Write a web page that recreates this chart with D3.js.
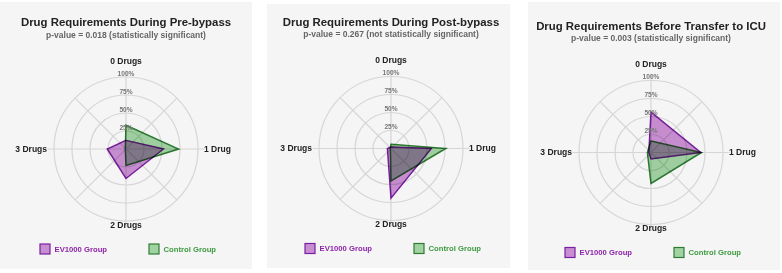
<!DOCTYPE html>
<html><head><meta charset="utf-8">
<script src="https://cdn.jsdelivr.net/npm/d3@7"></script>
<style>body{margin:0;background:#fff}svg{display:block}</style>
</head><body><svg id="c" width="782" height="273"></svg>
<script>
// ---- data ----
const categories = ["0 Drugs", "1 Drug", "2 Drugs", "3 Drugs"];
const chartTitles = ["Drug Requirements During Pre-bypass", "Drug Requirements During Post-bypass", "Drug Requirements Before Transfer to ICU"];
const pValues = ["p-value = 0.018 (statistically significant)", "p-value = 0.267 (not statistically significant)", "p-value = 0.003 (statistically significant)"];
const groupNames = ["EV1000 Group", "Control Group"];
const preBypassEV1000 = [12, 52, 41, 26];
const preBypassControl = [33, 73, 23, 1];
const postBypassEV1000 = [2, 56, 69, 5];
const postBypassControl = [6, 76, 45, 1];
const icuEV1000 = [56, 69, 9, 3];
const icuControl = [16, 70, 43, 5];
const tickValues = [25, 50, 75, 100];
const tickLabels = ["25%", "50%", "75%", "100%"];

// ---- layout / style ----
const panels = [
  {x: 0, y: 2, w: 252, h: 267, cx: 126, cy: 149, ev: preBypassEV1000, ctl: preBypassControl},
  {x: 267, y: 4, w: 243, h: 264, cx: 391, cy: 148.5, ev: postBypassEV1000, ctl: postBypassControl},
  {x: 528, y: 2, w: 252, h: 268, cx: 651, cy: 152.5, ev: icuEV1000, ctl: icuControl}
];
const R = 72;
const FONT = "'Liberation Sans', Arial, Helvetica, sans-serif";
const colors = [
  {fill: "#9c27b0", stroke: "#7b1fa2", text: "#8e24aa"},
  {fill: "#4caf50", stroke: "#2e7d32", text: "#3d9a40"}
];

const svg = d3.select("#c");
const r = d3.scaleLinear().domain([0, 100]).range([0, R]);
const ang = d3.scaleLinear().domain([0, categories.length]).range([0, 2 * Math.PI]);

panels.forEach((p, pi) => {
  svg.append("rect").attr("x", p.x).attr("y", p.y).attr("width", p.w).attr("height", p.h)
    .attr("fill", "#f5f5f5");
  const g = svg.append("g").attr("transform", `translate(${p.cx},${p.cy})`);

  g.append("text").attr("x", 0).attr("y", -127).attr("dy", "0.35em")
    .attr("text-anchor", "middle").attr("font-family", FONT).attr("font-weight", "bold")
    .attr("font-size", 11.4).attr("fill", "#222").text(chartTitles[pi]);
  g.append("text").attr("x", 0).attr("y", -114).attr("dy", "0.35em")
    .attr("text-anchor", "middle").attr("font-family", FONT).attr("font-weight", "bold")
    .attr("font-size", 8.5).attr("fill", "#666").text(pValues[pi]);

  // rings
  g.selectAll("circle.ring").data(tickValues).join("circle").attr("class", "ring")
    .attr("r", d => r(d)).attr("fill", "none").attr("stroke", "#d6d6d6").attr("stroke-width", 1.2);
  // spokes (8): main axes extend a little past the outer ring
  const spokes = d3.range(8).map(i => i / 2);
  g.selectAll("line.spoke").data(spokes).join("line").attr("class", "spoke")
    .attr("x1", 0).attr("y1", 0)
    .attr("x2", d => Math.sin(ang(d)) * r(Number.isInteger(d) ? 109 : 100))
    .attr("y2", d => -Math.cos(ang(d)) * r(Number.isInteger(d) ? 109 : 100))
    .attr("stroke", "#d6d6d6").attr("stroke-width", 1.2);

  const line = d3.lineRadial().angle((d, i) => ang(i)).radius(d => r(d)).curve(d3.curveLinearClosed);
  [p.ev, p.ctl].forEach((vals, k) => {
    g.append("path").attr("d", line(vals))
      .attr("fill", colors[k].fill).attr("fill-opacity", 0.5)
      .attr("stroke", colors[k].stroke).attr("stroke-width", 1.5)
      .style("mix-blend-mode", "multiply");
  });

  // tick labels
  g.selectAll("text.tick").data(tickValues).join("text").attr("class", "tick")
    .attr("x", 0).attr("y", d => -r(d) - 1.5)
    .attr("text-anchor", "middle").attr("font-family", FONT).attr("font-size", 6.6)
    .attr("font-weight", "bold").attr("fill", "#777").text((d, i) => tickLabels[i]);

  // axis labels
  const lab = [
    {x: 0, y: -88, a: "middle"}, {x: 78, y: 0, a: "start"},
    {x: 0, y: 76, a: "middle"}, {x: -79, y: 0, a: "end"}
  ];
  g.selectAll("text.axl").data(categories).join("text").attr("class", "axl")
    .attr("x", (d, i) => lab[i].x).attr("y", (d, i) => lab[i].y).attr("dy", "0.35em")
    .attr("text-anchor", (d, i) => lab[i].a).attr("font-family", FONT).attr("font-weight", "bold")
    .attr("font-size", 8.5).attr("fill", "#222").text(d => d);

  // legend
  const lx = [-86, 23];
  groupNames.forEach((name, k) => {
    g.append("rect").attr("x", lx[k]).attr("y", 100 - 5).attr("width", 10).attr("height", 10)
      .attr("fill", colors[k].fill).attr("fill-opacity", 0.5)
      .attr("stroke", colors[k].stroke).attr("stroke-width", 1.2);
    g.append("text").attr("x", lx[k] + 14.5).attr("y", 100).attr("dy", "0.35em")
      .attr("font-family", FONT).attr("font-weight", "bold").attr("font-size", 7.7)
      .attr("fill", colors[k].text).text(name);
  });
});
</script></body></html>
